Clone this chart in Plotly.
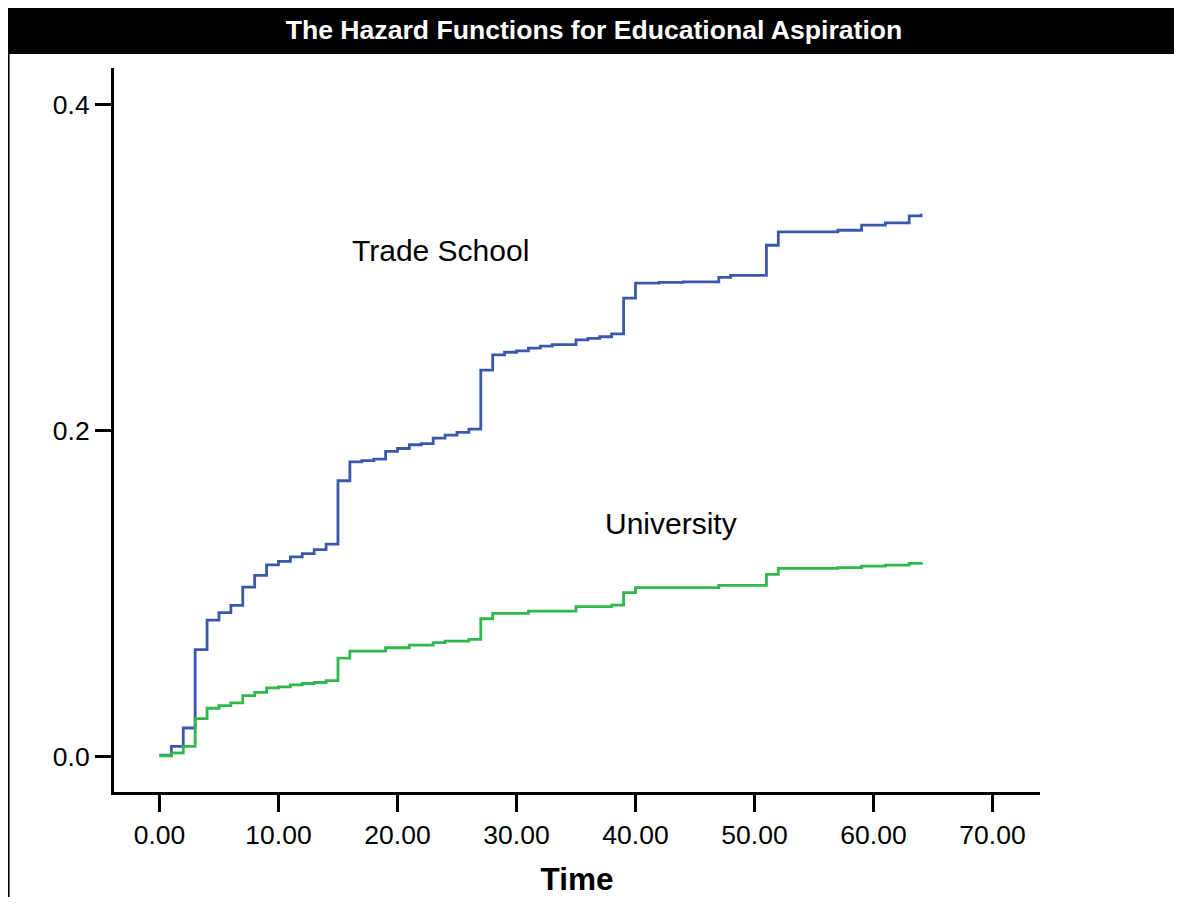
import plotly.graph_objects as go

# ---- data ----
trade_time = [0, 1, 2, 3, 4, 5, 6, 7, 8, 9, 10, 11, 12, 13, 14, 15, 16, 17, 18, 19, 20,
              21, 22, 23, 24, 25, 26, 27, 28, 29, 30, 31, 32, 33, 35, 36, 37, 38, 39, 40,
              42, 44, 47, 48, 51, 52, 57, 59, 61, 63, 64]
trade_hazard = [0.0010, 0.0063, 0.0176, 0.0657, 0.0838, 0.0883, 0.0928, 0.1040, 0.1112,
                0.1176, 0.1198, 0.1225, 0.1245, 0.1270, 0.1303, 0.1692, 0.1808, 0.1815,
                0.1825, 0.1872, 0.1890, 0.1913, 0.1920, 0.1954, 0.1972, 0.1989, 0.2009,
                0.2370, 0.2464, 0.2480, 0.2488, 0.2505, 0.2517, 0.2527, 0.2556, 0.2565,
                0.2575, 0.2593, 0.2812, 0.2904, 0.2908, 0.2912, 0.2939, 0.2951, 0.3136,
                0.3218, 0.3228, 0.3259, 0.3273, 0.3316, 0.3330]

univ_time = [0, 1, 2, 3, 4, 5, 6, 7, 8, 9, 10, 11, 12, 13, 14, 15, 16, 19, 21, 23, 24,
             26, 27, 28, 31, 35, 38, 39, 40, 47, 51, 52, 57, 59, 61, 63, 64]
univ_hazard = [0.0006, 0.0023, 0.0063, 0.0233, 0.0297, 0.0313, 0.0330, 0.0375, 0.0395,
               0.0422, 0.0428, 0.0440, 0.0449, 0.0455, 0.0467, 0.0604, 0.0647, 0.0668,
               0.0684, 0.0699, 0.0709, 0.0719, 0.0846, 0.0879, 0.0893, 0.0920, 0.0930,
               0.1006, 0.1037, 0.1051, 0.1118, 0.1155, 0.1159, 0.1169, 0.1175, 0.1186,
               0.1194]

x_ticks = [0, 10, 20, 30, 40, 50, 60, 70]
y_ticks = [0.0, 0.2, 0.4]

labels = {"trade": "Trade School", "univ": "University"}
title_text = "The Hazard Functions for Educational Aspiration"
x_title = "Time"

FONT = "Liberation Sans, Arial, Helvetica, sans-serif"
BLUE = "#3b58ae"
GREEN = "#2fb84b"

fig = go.Figure()
fig.add_trace(go.Scatter(x=trade_time, y=trade_hazard, mode="lines",
                         line=dict(shape="hv", color=BLUE, width=2.8),
                         name=labels["trade"], showlegend=False))
fig.add_trace(go.Scatter(x=univ_time, y=univ_hazard, mode="lines",
                         line=dict(shape="hv", color=GREEN, width=2.8),
                         name=labels["univ"], showlegend=False))

fig.add_annotation(x=23.64, y=0.3107, xref="x", yref="y", text=labels["trade"],
                   showarrow=False, font=dict(family=FONT, size=30, color="black"))
fig.add_annotation(x=42.97, y=0.1433, xref="x", yref="y", text=labels["univ"],
                   showarrow=False, font=dict(family=FONT, size=30, color="black"))

# figure is placed at an 8px page offset; sizes chosen so no scrollbars appear
W, H = 1166, 889
OFF = 8
L, R, T, B = 114 - OFF, 1040 - OFF, 68 - OFF, 792 - OFF
def px(xp):
    return (xp - OFF - L) / (R - L)
def py(yp):
    return (B - (yp - OFF)) / (B - T)

# black title bar and left frame line
fig.add_shape(type="rect", xref="paper", yref="paper",
              x0=px(0), x1=px(1200), y0=py(54), y1=py(0),
              fillcolor="black", line=dict(width=0), layer="below")
fig.add_shape(type="line", xref="paper", yref="paper",
              x0=px(OFF + 0.8), x1=px(OFF + 0.8), y0=py(54), y1=py(920),
              line=dict(color="black", width=1.6))

fig.update_layout(
    width=W, height=H,
    margin=dict(l=L, r=W - R, t=T, b=H - B, autoexpand=False),
    paper_bgcolor="white", plot_bgcolor="white",
    title=dict(text="<b>" + title_text + "</b>", x=(594 - OFF) / W, xref="container",
               xanchor="center", y=1 - (30 - OFF) / H, yref="container", yanchor="middle",
               font=dict(family=FONT, size=26.6, color="white")),
    font=dict(family=FONT, size=26, color="black"),
)

fig.update_xaxes(range=[-3.82, 73.99], tickvals=x_ticks, automargin=False,
                 ticktext=[f"{v:.2f}" for v in x_ticks],
                 showgrid=False, zeroline=False, showline=True, linecolor="black",
                 linewidth=3, ticks="outside", ticklen=17, tickwidth=2.5, tickcolor="black",
                 tickfont=dict(family=FONT, size=26.5, color="black"),
                 title=dict(text="<b>" + x_title + "</b>", standoff=25,
                            font=dict(family=FONT, size=31.5, color="black")))
fig.update_yaxes(range=[-0.02164, 0.4223], tickvals=y_ticks, automargin=False,
                 ticktext=[f"{v:.1f}" for v in y_ticks],
                 showgrid=False, zeroline=False, showline=True, linecolor="black",
                 linewidth=3, ticks="outside", ticklen=16, tickwidth=2.5, tickcolor="black",
                 tickfont=dict(family=FONT, size=26.5, color="black"))

fig.write_html("out.html")
